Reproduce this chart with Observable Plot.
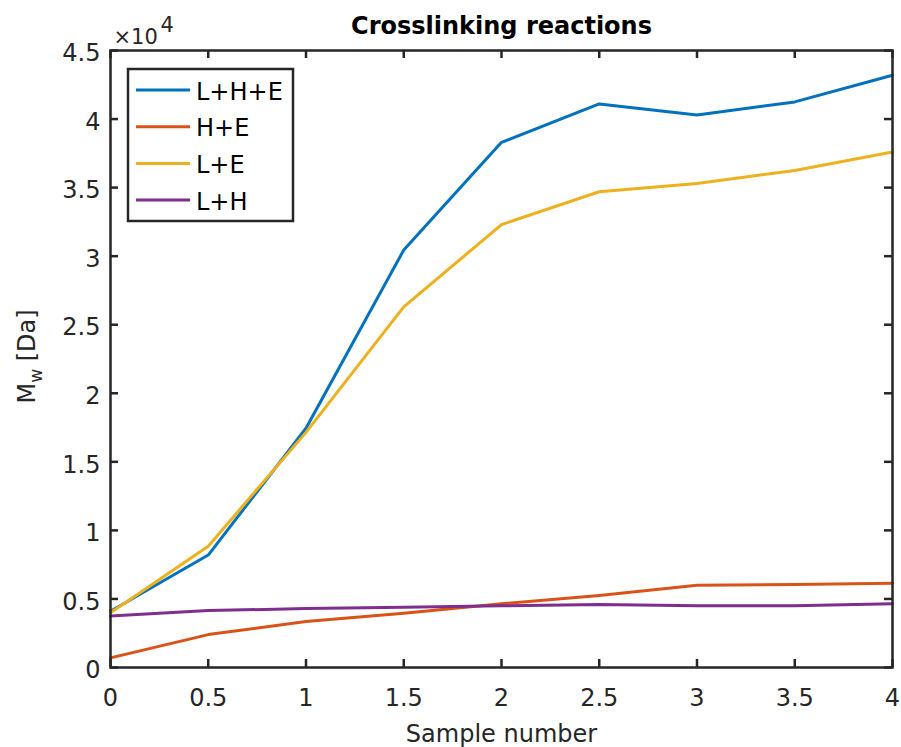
<!DOCTYPE html>
<html><head><meta charset="utf-8">
<script src="https://cdn.jsdelivr.net/npm/d3@7"></script>
<script src="https://cdn.jsdelivr.net/npm/@observablehq/plot@0.6"></script>
<style>body{margin:0;background:#fff}</style>
</head><body><div id="chart"></div>
<script>
const samples = [0, 0.5, 1, 1.5, 2, 2.5, 3, 3.5, 4];
const seriesNames = ["L+H+E", "H+E", "L+E", "L+H"];
const seriesColors = ["#0072BD", "#D95319", "#EDB120", "#7E2F8E"];
const valsLHE = [4100, 8200, 17450, 30450, 38300, 41100, 40300, 41250, 43200];
const valsHE  = [700, 2400, 3350, 3950, 4650, 5250, 6000, 6050, 6150];
const valsLE  = [4000, 8850, 17150, 26300, 32300, 34700, 35300, 36250, 37600];
const valsLH  = [3750, 4150, 4300, 4400, 4500, 4600, 4500, 4500, 4650];
const xTicks = [0, 0.5, 1, 1.5, 2, 2.5, 3, 3.5, 4];
const yTicks = [0, 5000, 10000, 15000, 20000, 25000, 30000, 35000, 40000, 45000];
const titleText = "Crosslinking reactions";
const xLabelText = "Sample number";

const allVals = [valsLHE, valsHE, valsLE, valsLH];
const rows = [];
allVals.forEach((vals, i) => vals.forEach((v, j) => rows.push({sample: samples[j], value: v, series: seriesNames[i]})));

const W = 901, H = 747, mL = 110, mR = 9, mT = 50, mB = 80;
const innerW = W - mL - mR, innerH = H - mT - mB;
const axisColor = "#262626";
const tickLen = 8;

const plot = Plot.plot({
  width: W, height: H,
  marginLeft: mL, marginRight: mR, marginTop: mT, marginBottom: mB,
  style: {fontFamily: "DejaVu Sans", fontSize: "24px", color: axisColor, background: "#fff"},
  x: {domain: [0, 4], label: null},
  y: {domain: [0, 45000], label: null},
  color: {domain: seriesNames, range: seriesColors},
  marks: [
    Plot.line(rows, {x: "sample", y: "value", z: "series", stroke: "series", strokeWidth: 3}),
    Plot.frame({stroke: axisColor, strokeWidth: 2.5}),
    Plot.tickX(xTicks, {x: d => d, insetTop: innerH - tickLen, stroke: axisColor, strokeWidth: 2.5}),
    Plot.tickX(xTicks, {x: d => d, insetBottom: innerH - tickLen, stroke: axisColor, strokeWidth: 2.5}),
    Plot.tickY(yTicks, {y: d => d, insetRight: innerW - tickLen, stroke: axisColor, strokeWidth: 2.5}),
    Plot.tickY(yTicks, {y: d => d, insetLeft: innerW - tickLen, stroke: axisColor, strokeWidth: 2.5}),
    Plot.axisX({ticks: xTicks, tickSize: 0, tickPadding: 21, tickFormat: d => String(d), label: null, fontSize: 24}),
    Plot.axisY({ticks: yTicks, tickSize: 0, tickPadding: 10, tickFormat: d => String(d / 1e4), label: null, fontSize: 24, dy: 3}),
    Plot.text([titleText], {text: d => d, frameAnchor: "top", lineAnchor: "bottom", dy: -17, fontWeight: "bold", fontSize: 24, fill: "black"}),
    Plot.text([xLabelText], {text: d => d, frameAnchor: "bottom", lineAnchor: "bottom", dy: 74, fontSize: 24, fill: axisColor}),
    Plot.text(["×10"], {text: d => d, frameAnchor: "top-left", textAnchor: "start", lineAnchor: "bottom", dx: 3, dy: -7, fontSize: 21, fill: axisColor}),
    Plot.text(["4"], {text: d => d, frameAnchor: "top-left", textAnchor: "start", lineAnchor: "bottom", dx: 50, dy: -19, fontSize: 21, fill: axisColor})
  ]
});
document.getElementById("chart").appendChild(plot);

const svg = d3.select(plot);
// y-axis label with subscript
const yl = svg.append("text")
  .attr("transform", `translate(35, ${mT + innerH * 0.5 - 2}) rotate(-90)`)
  .attr("text-anchor", "middle")
  .attr("font-family", "DejaVu Sans").attr("font-size", 24).attr("fill", axisColor);
yl.append("tspan").text("M");
yl.append("tspan").attr("font-size", 17).attr("dy", 7).text("w");
yl.append("tspan").attr("dy", -7).text("\u00a0[Da]");

// legend
const lx = mL + 18, ly = mT + 19, lw = 165, lh = 152;
const lg = svg.append("g");
lg.append("rect").attr("x", lx).attr("y", ly).attr("width", lw).attr("height", lh)
  .attr("fill", "#fff").attr("stroke", axisColor).attr("stroke-width", 2.5);
seriesNames.forEach((name, i) => {
  const cy = ly + 21 + i * 36.7;
  lg.append("line").attr("x1", lx + 8).attr("x2", lx + 62).attr("y1", cy).attr("y2", cy)
    .attr("stroke", seriesColors[i]).attr("stroke-width", 3);
  lg.append("text").attr("x", lx + 68).attr("y", cy + 9.5).attr("text-anchor", "start")
    .attr("font-family", "DejaVu Sans").attr("font-size", 24).attr("fill", "#000").text(name);
});
</script>
</body></html>
